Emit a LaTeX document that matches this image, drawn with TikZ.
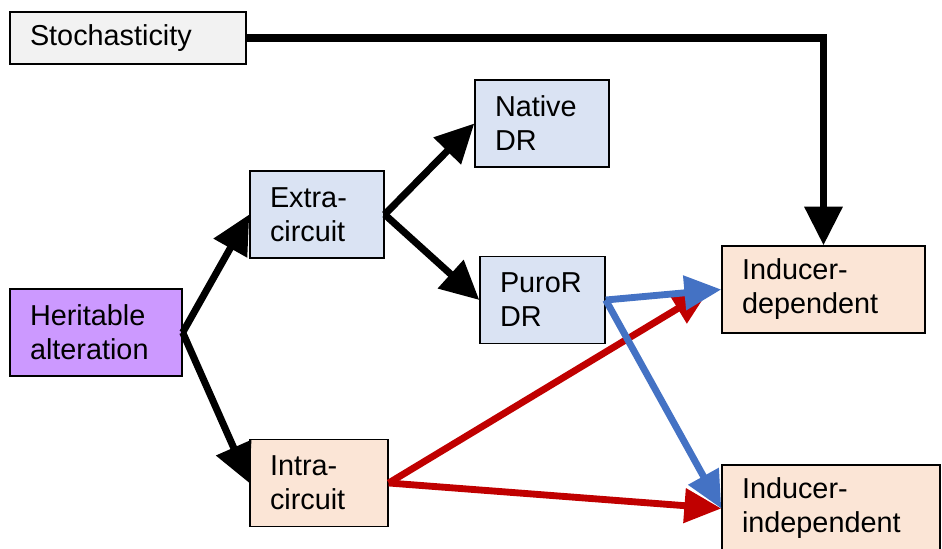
\documentclass[tikz,border=0pt]{standalone}
\usepackage{fontspec}
\setmainfont{Liberation Sans}
\usetikzlibrary{arrows.meta}
\definecolor{greybox}{HTML}{F2F2F2}
\definecolor{bluebox}{HTML}{DAE3F3}
\definecolor{peachbox}{HTML}{FBE5D6}
\definecolor{purplebox}{HTML}{CC99FF}
\definecolor{redline}{HTML}{C00000}
\definecolor{blueline}{HTML}{4472C4}

\begin{document}
\begin{tikzpicture}[font=\fontsize{16.4}{19.3}\selectfont]
    \tikzset{box/.style={
      draw, line width=0.8pt, inner xsep=0.4cm, inner ysep=0pt, align=left, minimum height=1.74cm
    }}
    \tikzset{arr/.style={line width=4pt, -{Triangle[length=22pt,width=21pt]}}}
    \tikzset{thinarr/.style={line width=3.9pt, -{Triangle[length=21pt,width=19pt]}}}
    \useasboundingbox (0,0) rectangle (18.84,-10.98);
    % Top row
    \node[box, fill=greybox, text width=3.92cm, minimum height=1.04cm] (stoch) at (2.56,-0.76) {Stochasticity};
    % Left column
    \node[box, fill=purplebox, text width=2.64cm] (herit)  at (1.92,-6.65)  {Heritable\\alteration};
    % Second column
    \node[box, fill=bluebox,  text width=1.88cm] (extra)  at (6.34,-4.29)  {Extra-\\circuit};
    \node[box, fill=peachbox, text width=1.96cm] (intra)  at (6.38,-9.66)  {Intra-\\circuit};
    % Third column
    \node[box, fill=bluebox,  text width=1.88cm] (native) at (10.84,-2.47) {Native\\DR};
    \node[box, fill=bluebox,  text width=1.70cm] (puro)   at (10.85,-6.00) {PuroR\\DR};
    % Outcomes
    \node[box, fill=peachbox, text width=3.26cm] (dep)    at (16.47,-5.79) {Inducer-\\dependent};
    \node[box, fill=peachbox, text width=3.56cm] (indep)  at (16.62,-10.17) {Inducer-\\independent};

    % Arrows
    \draw[arr] (herit.east) -- (extra.west);
    \draw[arr] (herit.east) -- (intra.west);
    \draw[arr] (extra.east) -- (native.west);
    \draw[arr] (extra.east) -- (puro.west);
    \draw[arr] (stoch.east) -| (dep.north);
    \draw[thinarr, redline]  (intra.east) -- ([xshift=-0.24cm]dep.west);
    \draw[thinarr, redline]  (intra.east) -- (indep.west);
    \draw[thinarr, blueline] (puro.east)  -- (dep.west);
    \draw[thinarr, blueline] (puro.east)  -- (indep.west);

  \end{tikzpicture}
\end{document}
